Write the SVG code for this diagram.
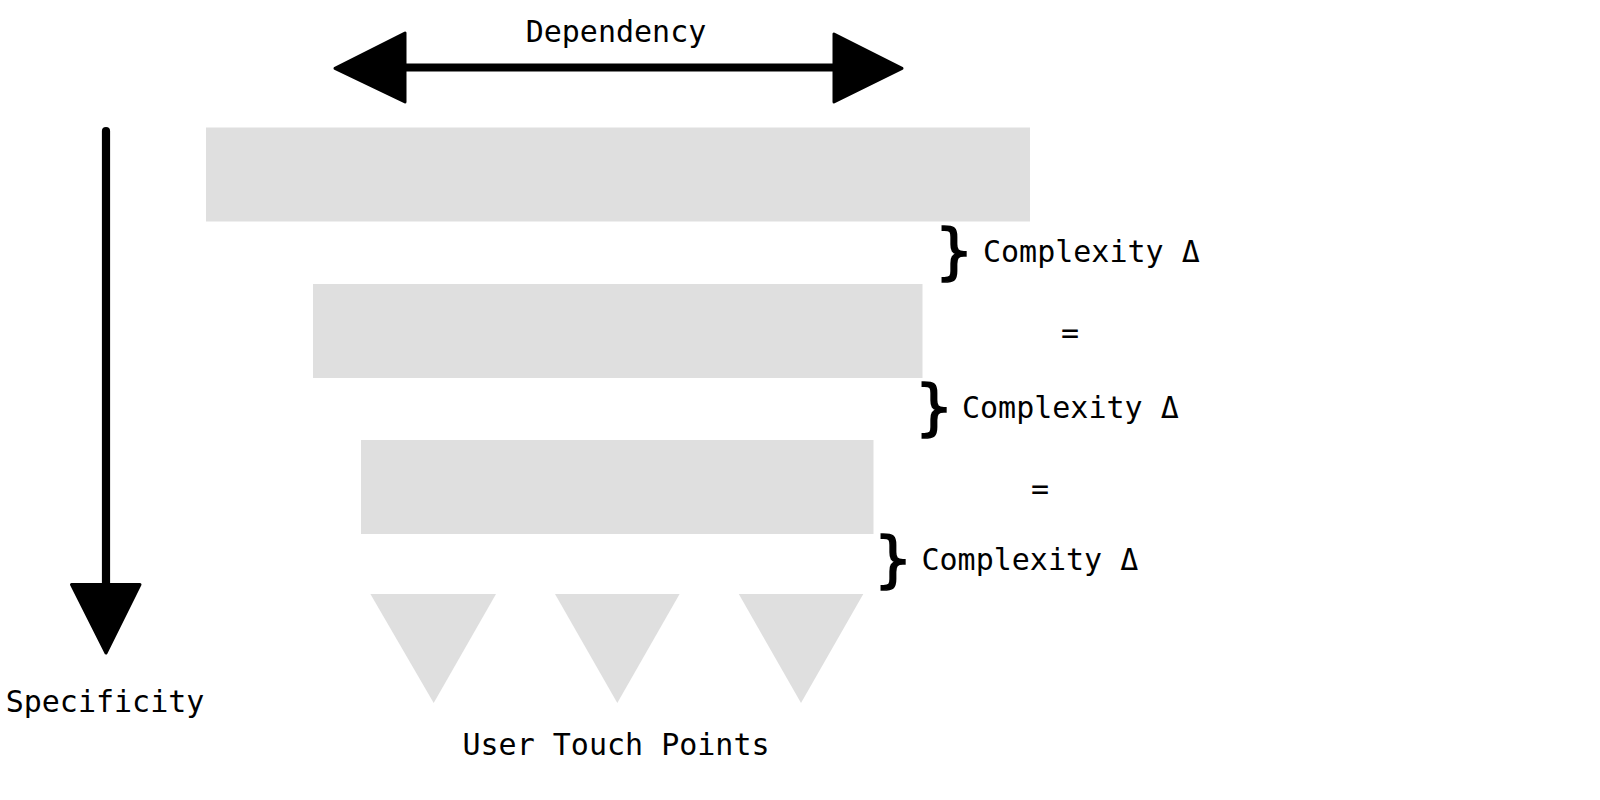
<svg xmlns="http://www.w3.org/2000/svg" width="1600" height="800" viewBox="0 0 1600 800">
<style>
.lbl{font-family:"DejaVu Sans Mono","Liberation Mono",monospace;font-size:30px;fill:#000;}
.brace{font-family:"DejaVu Sans Mono","Liberation Mono",monospace;font-size:61px;fill:#000;stroke:#000;stroke-width:1.6;}
.blk{fill:#dfdfdf;}
.ln{stroke:#000;stroke-width:8.2;stroke-linecap:round;fill:none;}
.hd{fill:#000;stroke:#000;stroke-width:3;stroke-linejoin:round;}
</style>
<rect width="1600" height="800" fill="#fff"/>
<g id="layer1"><rect class="blk" x="206" y="127.5" width="824" height="94"/></g>
<g id="layer2"><rect class="blk" x="313" y="284" width="609.5" height="94"/></g>
<g id="layer3"><rect class="blk" x="361" y="440" width="512.5" height="94"/></g>
<g id="touch1"><polygon class="blk" points="370.4,594 496,594 433.7,703"/></g>
<g id="touch2"><polygon class="blk" points="555,594 679.6,594 617.3,703"/></g>
<g id="touch3"><polygon class="blk" points="738.8,594 863.3,594 801,703"/></g>
<g id="connectors">
<line class="ln" x1="405" y1="67.5" x2="833" y2="67.5"/>
<polygon class="hd" points="405,33 405,102 335,68.4"/>
<polygon class="hd" points="834,34 834,102 902,68.4"/>
<line class="ln" x1="106" y1="131" x2="106" y2="585"/>
<polygon class="hd" points="71.5,584.5 140,584.5 106,653"/>
</g>
<g id="labels">
<text class="lbl" x="616" y="42" text-anchor="middle">Dependency</text>
<text class="lbl" x="105" y="712" text-anchor="middle">Specificity</text>
<text class="lbl" x="616" y="755" text-anchor="middle">User Touch Points</text>
</g>
<g id="delta1">
<text class="brace" x="954" y="272" text-anchor="middle">}</text>
<text class="lbl" x="983" y="262">Complexity Δ</text>
</g>
<text class="lbl" x="1070" y="343" text-anchor="middle">=</text>
<g id="delta2">
<text class="brace" x="934" y="428" text-anchor="middle">}</text>
<text class="lbl" x="962" y="417.5">Complexity Δ</text>
</g>
<text class="lbl" x="1040" y="499" text-anchor="middle">=</text>
<g id="delta3">
<text class="brace" x="893" y="580" text-anchor="middle">}</text>
<text class="lbl" x="921.5" y="569.5">Complexity Δ</text>
</g>
</svg>
